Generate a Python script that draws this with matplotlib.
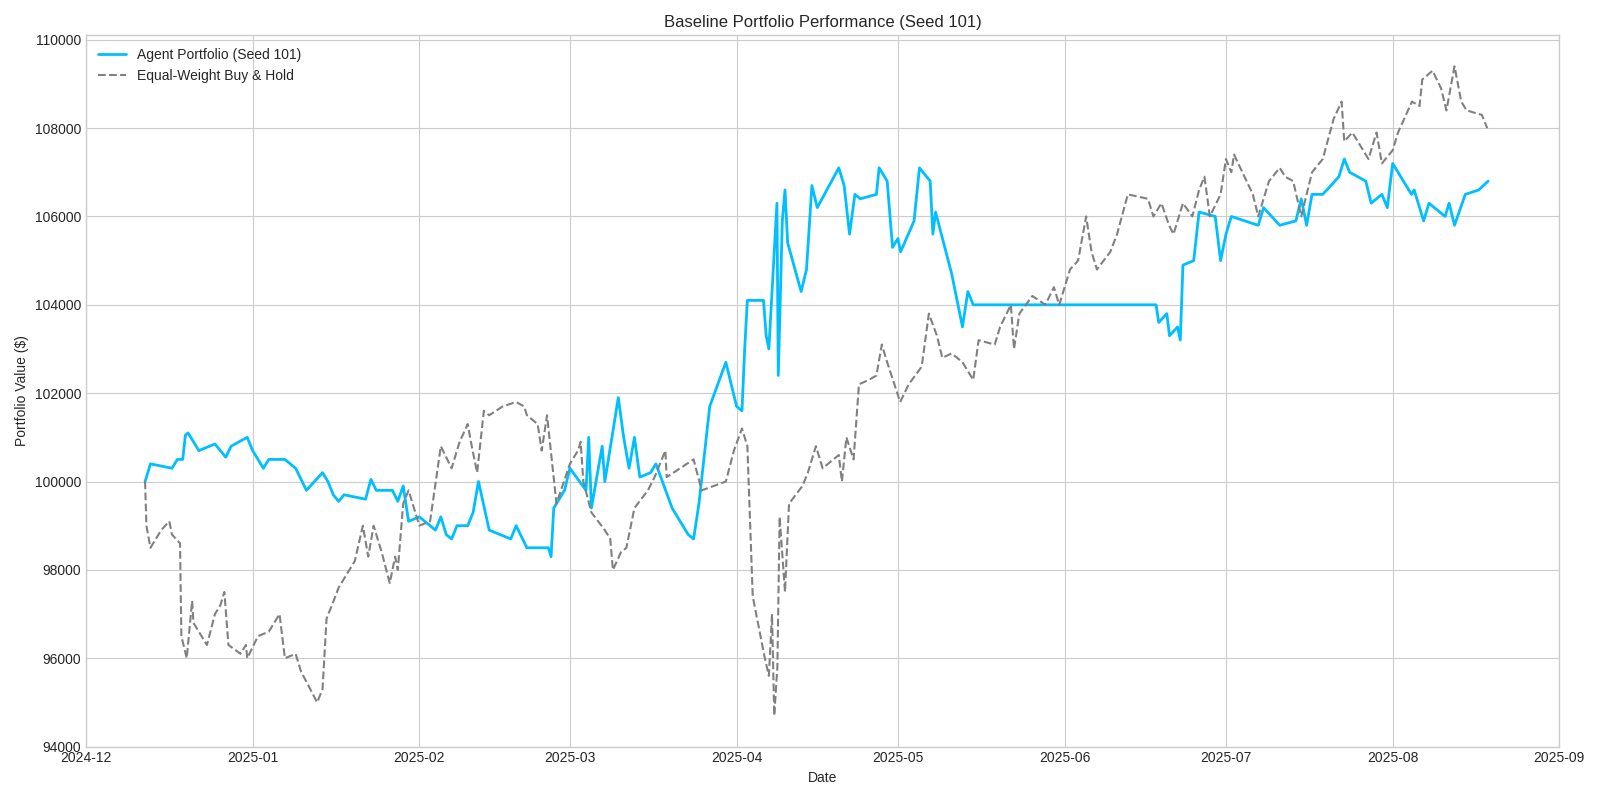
import pandas as pd
import matplotlib.pyplot as plt
import matplotlib.dates as mdates

# Agent portfolio
agent_dates = [
    "2024-12-12", "2024-12-13", "2024-12-17", "2024-12-18", "2024-12-19", "2024-12-19 12:00",
    "2024-12-20", "2024-12-22", "2024-12-25", "2024-12-26", "2024-12-27", "2024-12-28",
    "2024-12-31", "2025-01-01", "2025-01-03", "2025-01-04", "2025-01-07", "2025-01-09",
    "2025-01-11", "2025-01-14", "2025-01-15", "2025-01-16", "2025-01-17", "2025-01-18",
    "2025-01-22", "2025-01-23", "2025-01-24", "2025-01-27", "2025-01-28", "2025-01-29",
    "2025-01-30", "2025-02-01", "2025-02-04", "2025-02-05", "2025-02-06", "2025-02-07",
    "2025-02-08", "2025-02-10", "2025-02-11", "2025-02-12", "2025-02-14", "2025-02-18",
    "2025-02-19", "2025-02-21", "2025-02-25", "2025-02-25 12:00", "2025-02-26", "2025-02-28",
    "2025-03-01", "2025-03-04", "2025-03-04 12:00", "2025-03-05", "2025-03-07", "2025-03-07 12:00",
    "2025-03-10", "2025-03-11", "2025-03-12", "2025-03-13", "2025-03-14", "2025-03-16",
    "2025-03-17", "2025-03-20", "2025-03-23", "2025-03-24", "2025-03-25", "2025-03-27",
    "2025-03-30", "2025-04-01", "2025-04-02", "2025-04-02 12:00", "2025-04-03", "2025-04-06",
    "2025-04-06 12:00", "2025-04-07", "2025-04-08 12:00", "2025-04-08 18:00", "2025-04-09 12:00", "2025-04-10",
    "2025-04-10 12:00", "2025-04-13", "2025-04-14", "2025-04-15", "2025-04-16", "2025-04-20",
    "2025-04-21", "2025-04-22", "2025-04-23", "2025-04-24", "2025-04-27", "2025-04-27 12:00",
    "2025-04-29", "2025-04-30", "2025-05-01", "2025-05-01 12:00", "2025-05-04", "2025-05-05",
    "2025-05-07", "2025-05-07 12:00", "2025-05-08", "2025-05-11", "2025-05-13", "2025-05-14",
    "2025-05-15", "2025-06-17", "2025-06-18", "2025-06-18 12:00", "2025-06-20", "2025-06-20 12:00",
    "2025-06-22", "2025-06-22 12:00", "2025-06-23", "2025-06-25", "2025-06-26", "2025-06-29",
    "2025-06-30", "2025-07-01", "2025-07-02", "2025-07-07", "2025-07-08", "2025-07-11",
    "2025-07-14", "2025-07-15", "2025-07-16", "2025-07-17", "2025-07-19", "2025-07-22",
    "2025-07-23", "2025-07-24", "2025-07-27", "2025-07-28", "2025-07-30", "2025-07-31",
    "2025-08-01", "2025-08-04 12:00", "2025-08-05", "2025-08-06 18:00", "2025-08-07 18:00", "2025-08-10 18:00",
    "2025-08-11 12:00", "2025-08-12 12:00", "2025-08-14 12:00", "2025-08-17", "2025-08-18 18:00",
]
agent_values = [
    100000, 100400, 100300, 100500, 100500, 101050,
    101100, 100700, 100850, 100700, 100550, 100800,
    101000, 100700, 100300, 100500, 100500, 100300,
    99800, 100200, 100000, 99700, 99550, 99700,
    99600, 100050, 99800, 99800, 99550, 99900,
    99100, 99200, 98900, 99200, 98800, 98700,
    99000, 99000, 99300, 100000, 98900, 98700,
    99000, 98500, 98500, 98300, 99400, 99800,
    100300, 99800, 101000, 99400, 100800, 100000,
    101900, 101000, 100300, 101000, 100100, 100200,
    100400, 99400, 98800, 98700, 99500, 101700,
    102700, 101700, 101600, 103000, 104100, 104100,
    103300, 103000, 106300, 102400, 105900, 106600,
    105400, 104300, 104800, 106700, 106200, 107100,
    106700, 105600, 106500, 106400, 106500, 107100,
    106800, 105300, 105500, 105200, 105900, 107100,
    106800, 105600, 106100, 104700, 103500, 104300,
    104000, 104000, 104000, 103600, 103800, 103300,
    103500, 103200, 104900, 105000, 106100, 106000,
    105000, 105600, 106000, 105800, 106200, 105800,
    105900, 106400, 105800, 106500, 106500, 106900,
    107300, 107000, 106800, 106300, 106500, 106200,
    107200, 106500, 106600, 105900, 106300, 106000,
    106300, 105800, 106500, 106600, 106800,
]

# Equal-weight buy & hold benchmark
bench_dates = [
    "2024-12-12", "2024-12-12 06:00", "2024-12-13", "2024-12-15", "2024-12-16 12:00", "2024-12-17",
    "2024-12-18 12:00", "2024-12-18 18:00", "2024-12-19 18:00", "2024-12-20 18:00", "2024-12-21", "2024-12-23 12:00",
    "2024-12-25", "2024-12-26", "2024-12-26 18:00", "2024-12-27 12:00", "2024-12-29 18:00", "2024-12-30 18:00",
    "2024-12-31", "2025-01-02", "2025-01-04", "2025-01-06", "2025-01-07", "2025-01-09",
    "2025-01-10", "2025-01-13", "2025-01-14", "2025-01-14 18:00", "2025-01-15 18:00", "2025-01-17",
    "2025-01-20", "2025-01-21 12:00", "2025-01-22 12:00", "2025-01-23 12:00", "2025-01-25", "2025-01-26 12:00",
    "2025-01-27 12:00", "2025-01-28", "2025-01-29", "2025-01-30", "2025-02-01", "2025-02-03",
    "2025-02-05", "2025-02-07", "2025-02-08 12:00", "2025-02-10", "2025-02-10 18:00", "2025-02-11 18:00",
    "2025-02-13", "2025-02-14", "2025-02-16 12:00", "2025-02-19", "2025-02-20 12:00", "2025-02-21",
    "2025-02-23", "2025-02-23 18:00", "2025-02-24 18:00", "2025-02-26 12:00", "2025-03-01", "2025-03-02 12:00",
    "2025-03-03", "2025-03-03 12:00", "2025-03-05", "2025-03-07 12:00", "2025-03-08 12:00", "2025-03-09",
    "2025-03-10 12:00", "2025-03-11 12:00", "2025-03-13", "2025-03-15 12:00", "2025-03-16 18:00", "2025-03-18 18:00",
    "2025-03-19", "2025-03-21 12:00", "2025-03-24", "2025-03-25 12:00", "2025-03-30", "2025-03-31 12:00",
    "2025-04-02", "2025-04-03", "2025-04-04", "2025-04-06 06:00", "2025-04-07", "2025-04-07 14:00",
    "2025-04-08", "2025-04-08 14:00", "2025-04-09", "2025-04-10", "2025-04-10 18:00", "2025-04-13 06:00",
    "2025-04-14 06:00", "2025-04-15 18:00", "2025-04-17", "2025-04-20", "2025-04-20 14:00", "2025-04-21 10:00",
    "2025-04-22 18:00", "2025-04-23 18:00", "2025-04-25 14:00", "2025-04-27", "2025-04-28", "2025-04-29",
    "2025-05-01 10:00", "2025-05-03", "2025-05-05 10:00", "2025-05-06 18:00", "2025-05-08 06:00", "2025-05-09 06:00",
    "2025-05-11", "2025-05-13", "2025-05-15", "2025-05-16", "2025-05-19", "2025-05-20",
    "2025-05-22", "2025-05-22 14:00", "2025-05-23 14:00", "2025-05-26", "2025-05-28 10:00", "2025-05-30",
    "2025-05-31", "2025-06-02", "2025-06-03 12:00", "2025-06-05", "2025-06-06", "2025-06-07",
    "2025-06-09 12:00", "2025-06-10 18:00", "2025-06-12 18:00", "2025-06-16 12:00", "2025-06-17 12:00", "2025-06-19",
    "2025-06-20 10:00", "2025-06-21 06:00", "2025-06-23", "2025-06-24 18:00", "2025-06-26", "2025-06-27",
    "2025-06-28", "2025-06-30", "2025-07-01", "2025-07-02", "2025-07-02 12:00", "2025-07-06",
    "2025-07-07", "2025-07-09", "2025-07-11", "2025-07-12", "2025-07-13 12:00", "2025-07-15",
    "2025-07-17", "2025-07-19", "2025-07-21", "2025-07-22 12:00", "2025-07-23", "2025-07-24 12:00",
    "2025-07-27 12:00", "2025-07-29", "2025-07-30", "2025-08-01", "2025-08-02", "2025-08-04 14:00",
    "2025-08-06", "2025-08-06 12:00", "2025-08-08 10:00", "2025-08-10", "2025-08-11", "2025-08-12 12:00",
    "2025-08-13 18:00", "2025-08-14 18:00", "2025-08-17 14:00", "2025-08-18 14:00",
]
bench_values = [
    100000, 99000, 98500, 98900, 99100, 98800,
    98600, 96500, 96000, 97300, 96800, 96300,
    97000, 97200, 97500, 96300, 96100, 96300,
    96000, 96500, 96600, 97000, 96000, 96100,
    95700, 95000, 95300, 96900, 97200, 97600,
    98200, 99000, 98300, 99000, 98400, 97700,
    98300, 98000, 99500, 99800, 99000, 99100,
    100800, 100300, 100900, 101300, 100800, 100200,
    101600, 101500, 101700, 101800, 101700, 101500,
    101300, 100700, 101500, 99500, 100400, 100700,
    100900, 100000, 99300, 98900, 98700, 98000,
    98400, 98500, 99400, 99800, 100100, 100700,
    100100, 100300, 100500, 99800, 100000, 100700,
    101200, 100800, 97400, 96000, 95600, 97000,
    94700, 95800, 99200, 97500, 99500, 99900,
    100200, 100800, 100300, 100600, 100000, 101000,
    100500, 102200, 102300, 102400, 103100, 102700,
    101800, 102200, 102600, 103800, 103300, 102800,
    102900, 102700, 102300, 103200, 103100, 103500,
    104000, 103000, 103800, 104200, 104000, 104400,
    104000, 104800, 105000, 106000, 105200, 104800,
    105200, 105600, 106500, 106400, 106000, 106300,
    105800, 105600, 106300, 106000, 106600, 106900,
    106000, 106500, 107300, 107000, 107400, 106500,
    106000, 106800, 107100, 106900, 106800, 106000,
    107000, 107300, 108200, 108600, 107700, 107900,
    107300, 107900, 107200, 107500, 107900, 108600,
    108500, 109100, 109300, 108900, 108400, 109400,
    108600, 108400, 108300, 108000,
]

plt.style.use("seaborn-v0_8-whitegrid")
fig, ax = plt.subplots(figsize=(16, 8), dpi=100)

ax.plot(pd.to_datetime(agent_dates, format="mixed"), agent_values, color="deepskyblue", linewidth=2,
        label="Agent Portfolio (Seed 101)")
ax.plot(pd.to_datetime(bench_dates, format="mixed"), bench_values, color="gray", linestyle="--", linewidth=1.5,
        label="Equal-Weight Buy & Hold")

ax.set_xlim(pd.Timestamp("2024-12-01"), pd.Timestamp("2025-09-01"))
ax.set_ylim(94000, 110100)
ax.xaxis.set_major_locator(mdates.MonthLocator())
ax.xaxis.set_major_formatter(mdates.DateFormatter("%Y-%m"))

ax.set_title("Baseline Portfolio Performance (Seed 101)", fontsize=12)
ax.set_xlabel("Date")
ax.set_ylabel("Portfolio Value ($)")
ax.legend(loc="upper left")
for s in ax.spines.values():
    s.set_visible(True)
    s.set_color("#cccccc")

plt.tight_layout()
plt.savefig("out.png", dpi=100)
